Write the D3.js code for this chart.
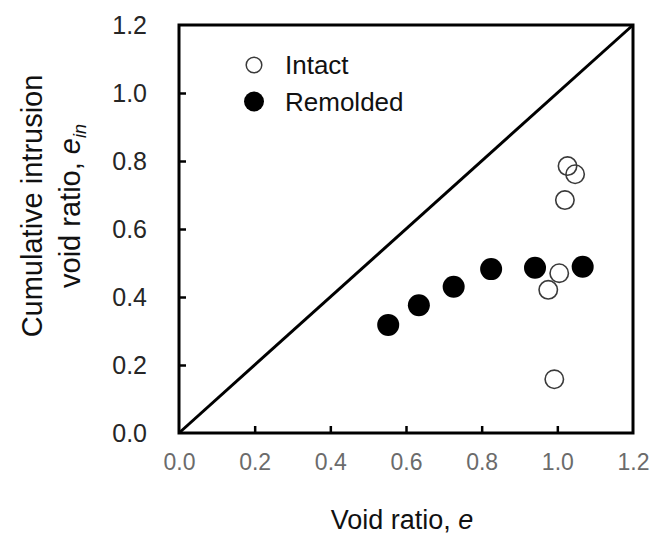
<!DOCTYPE html>
<html><head><meta charset="utf-8">
<script src="https://cdn.jsdelivr.net/npm/d3@7"></script>
<style>
html,body{margin:0;padding:0;background:#fff;}
svg text{font-family:"Liberation Sans",Arial,sans-serif;}
</style></head>
<body><svg id="chart" width="664" height="537"></svg>
<script>
// Data
const intactE  = [1.027, 1.047, 1.020, 1.005, 0.976, 0.992];
const intactEin = [0.785, 0.761, 0.685, 0.470, 0.421, 0.158];
const remoldedE  = [0.553, 0.634, 0.726, 0.825, 0.941, 1.067];
const remoldedEin = [0.318, 0.376, 0.430, 0.482, 0.486, 0.489];
const xTicks = [0, 0.2, 0.4, 0.6, 0.8, 1.0, 1.2];
const yTicks = [0, 0.2, 0.4, 0.6, 0.8, 1.0, 1.2];
const lineOneToOne = [[0,0],[1.2,1.2]];
const legendItems = ["Intact", "Remolded"];

const svg = d3.select("#chart");
const L = 179, R = 633, T = 25, B = 433;
const x = d3.scaleLinear().domain([0, 1.2]).range([L, R]);
const y = d3.scaleLinear().domain([0, 1.2]).range([B, T]);

// x axis (ticks inward)
const xAxis = svg.append("g").attr("transform", `translate(0,${B})`)
  .call(d3.axisBottom(x).tickValues(xTicks).tickFormat(d3.format(".1f")).tickSizeInner(-7).tickSizeOuter(0).tickPadding(20));
xAxis.select(".domain").remove();
xAxis.selectAll(".tick line").attr("stroke", "#000").attr("stroke-width", 2.5)
  .filter(d => d === 0 || d === 1.2).remove();
xAxis.selectAll(".tick text").attr("fill", "#6b6b6b")
  .attr("font-family", "'DejaVu Sans', sans-serif").attr("font-weight", 200)
  .attr("dy", "0.71em").attr("y", 21).style("font-size","23px");

// y axis
const yAxis = svg.append("g").attr("transform", `translate(${L},0)`)
  .call(d3.axisLeft(y).tickValues(yTicks).tickFormat(d3.format(".1f")).tickSizeInner(-7).tickSizeOuter(0).tickPadding(32));
yAxis.select(".domain").remove();
yAxis.selectAll(".tick line").attr("stroke", "#000").attr("stroke-width", 2.5)
  .filter(d => d === 0 || d === 1.2).remove();
yAxis.selectAll(".tick text").attr("font-size", 25).attr("fill", "#262626");

// frame
svg.append("rect").attr("x", L).attr("y", T).attr("width", R - L).attr("height", B - T)
  .attr("fill", "none").attr("stroke", "#000").attr("stroke-width", 3);

// 1:1 line
svg.append("path").datum(lineOneToOne)
  .attr("d", d3.line().x(d => x(d[0])).y(d => y(d[1])))
  .attr("stroke", "#000").attr("stroke-width", 3).attr("fill", "none");

// remolded
svg.append("g").selectAll("circle").data(remoldedE).join("circle")
  .attr("cx", d => x(d)).attr("cy", (d, i) => y(remoldedEin[i])).attr("r", 11)
  .attr("fill", "#000");

// intact
svg.append("g").selectAll("circle").data(intactE).join("circle")
  .attr("cx", d => x(d)).attr("cy", (d, i) => y(intactEin[i])).attr("r", 9.2)
  .attr("fill", "none").attr("stroke", "#3a3a3a").attr("stroke-width", 1.6);

// legend
svg.append("circle").attr("cx", 254).attr("cy", 65).attr("r", 7.8)
  .attr("fill", "#fff").attr("stroke", "#3a3a3a").attr("stroke-width", 1.5);
svg.append("circle").attr("cx", 254).attr("cy", 101.5).attr("r", 10).attr("fill", "#000");
svg.append("text").attr("x", 285).attr("y", 74).attr("font-size", 26).attr("fill", "#111").text(legendItems[0]);
svg.append("text").attr("x", 285).attr("y", 110.5).attr("font-size", 26).attr("fill", "#111").text(legendItems[1]);

// x title
const xt = svg.append("text").attr("x", (L + R) / 2 - 4).attr("y", 529).attr("text-anchor", "middle")
  .attr("font-size", 27).attr("fill", "#111");
xt.append("tspan").text("Void ratio, ");
xt.append("tspan").attr("font-style", "italic").text("e");

// y title
const yt = svg.append("g").attr("transform", "translate(0,206) rotate(-90)");
yt.append("text").attr("x", 0).attr("y", 42).attr("text-anchor", "middle")
  .attr("font-size", 29).attr("fill", "#111").text("Cumulative intrusion");
const yt2 = yt.append("text").attr("x", 0).attr("y", 80).attr("text-anchor", "middle")
  .attr("font-size", 29).attr("fill", "#111");
yt2.append("tspan").text("void ratio, ");
yt2.append("tspan").attr("font-style", "italic").text("e");
yt2.append("tspan").attr("font-style", "italic").attr("font-size", 18).attr("dy", 6).text("in");
</script></body></html>
